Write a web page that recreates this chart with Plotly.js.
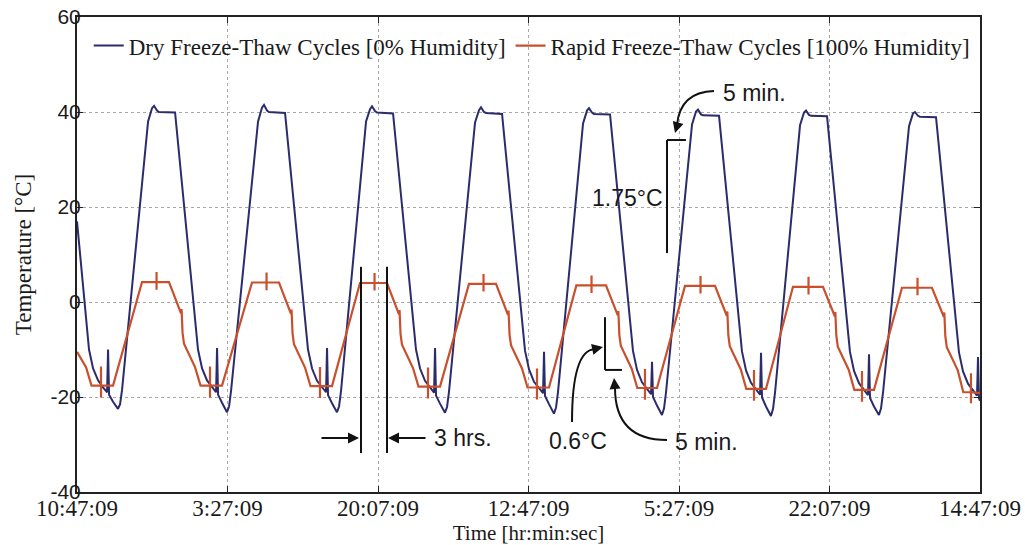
<!DOCTYPE html>
<html>
<head>
<meta charset="utf-8">
<script src="https://cdn.plot.ly/plotly-3.0.1.min.js"></script>
<style>
html,body{margin:0;padding:0;background:#fff;}
#chart{width:1025px;height:545px;}
</style>
</head>
<body>
<div id="chart"></div>
<script>
// Elapsed time in hours from 10:47:09 (start of record)
const dryTime = [
  0, 1.33, 1.78, 2.33, 2.88, 3.33, 3.44, 3.55, 3.99, 4.54, 4.77, 4.99, 7.87, 8.31,
  8.53, 8.86, 9.08, 10.86, 13.40, 13.85, 14.40, 14.95, 15.40, 15.51, 15.62, 16.06, 16.61, 16.84, 17.06, 20.05, 20.49,
  20.71, 21.04, 21.26, 23.04, 25.58, 26.03, 26.58, 27.13, 27.58, 27.69, 27.80, 28.24, 28.79, 29.02, 29.24, 32.01, 32.45,
  32.67, 33.00, 33.22, 35.00, 37.54, 37.99, 38.54, 39.09, 39.54, 39.65, 39.76, 40.20, 40.75, 40.98, 41.20, 44.08, 44.52,
  44.74, 45.07, 45.29, 47.07, 49.61, 50.06, 50.61, 51.16, 51.61, 51.72, 51.83, 52.27, 52.82, 53.05, 53.27, 56.04, 56.48,
  56.70, 57.03, 57.25, 59.03, 61.57, 62.02, 62.57, 63.12, 63.57, 63.68, 63.79, 64.23, 64.78, 65.01, 65.23, 68.11, 68.55,
  68.77, 69.10, 69.32, 71.10, 73.64, 74.09, 74.64, 75.19, 75.64, 75.75, 75.86, 76.30, 76.85, 77.08, 77.30, 80.07, 80.51,
  80.73, 81.06, 81.28, 83.06, 85.60, 86.05, 86.60, 87.15, 87.60, 87.71, 87.82, 88.26, 88.81, 89.04, 89.26, 92.14, 92.58,
  92.80, 93.13, 93.35, 95.13, 97.67, 98.12, 98.67, 99.22, 99.67, 99.78, 99.89, 100
];
const dryTemp = [
  17, -10, -14, -16.5, -18, -19, -10, -19.5, -21, -22.5, -21.5, -18.5, 38, 40.8,
  41.3, 40.3, 40.0, 39.9, -10, -14, -16.5, -18, -19, -9.7, -19.5, -21.2, -23.2, -22, -18.7, 38, 40.9,
  41.5, 40.3, 40.0, 39.8, -10, -14, -16.6, -18, -19, -9.7, -19.6, -21.3, -23.2, -22, -18.7, 38, 40.6,
  41.2, 40.2, 39.9, 39.7, -10, -14, -16.6, -18.1, -19.1, -9.7, -19.7, -21.4, -23.3, -22.1, -18.8, 37.8, 40.4,
  41.0, 40.0, 39.8, 39.6, -10.2, -14.2, -16.8, -18.2, -19.2, -10.5, -19.8, -21.5, -23.5, -22.2, -18.9, 37.6, 40.3,
  40.8, 39.9, 39.6, 39.5, -10.3, -14.3, -16.9, -18.3, -19.4, -12.6, -20, -21.8, -23.8, -22.4, -19, 37.4, 40.1,
  40.5, 39.5, 39.3, 39.2, -10.4, -14.4, -17, -18.4, -19.5, -10.7, -20.1, -22, -24, -22.5, -19.1, 37.2, 39.9,
  40.3, 39.4, 39.2, 39.1, -10.5, -14.5, -17.1, -18.5, -19.6, -11, -20.2, -22, -23.8, -22.4, -19.1, 37, 39.7,
  40.0, 39.2, 39.0, 38.9, -10.6, -14.6, -17.2, -18.6, -19.7, -11.6, -20.3, -20.8
];
const rapidTime = [
  0, 1.00, 1.61, 2.66, 2.66, 2.66, 2.66, 3.99, 7.20,
  8.81, 8.81, 8.81, 8.81, 10.19, 11.52, 11.58, 11.69, 11.85, 13.07, 13.68, 14.73, 14.73, 14.73, 14.73, 16.06, 19.38,
  20.99, 20.99, 20.99, 20.99, 22.37, 23.70, 23.76, 23.87, 24.03, 25.25, 25.86, 26.91, 26.91, 26.91, 26.91, 28.24, 31.34,
  32.95, 32.95, 32.95, 32.95, 34.33, 35.66, 35.72, 35.83, 35.99, 37.21, 37.82, 38.87, 38.87, 38.87, 38.87, 40.20, 43.41,
  45.02, 45.02, 45.02, 45.02, 46.40, 47.73, 47.79, 47.90, 48.06, 49.28, 49.89, 50.94, 50.94, 50.94, 50.94, 52.27, 55.30,
  56.98, 56.98, 56.98, 56.98, 58.58, 59.89, 59.95, 60.06, 60.22, 61.44, 62.05, 62.90, 62.90, 62.90, 62.90, 64.23, 67.33,
  69.05, 69.05, 69.05, 69.05, 70.65, 71.96, 72.02, 72.13, 72.29, 73.51, 74.12, 74.97, 74.97, 74.97, 74.97, 76.30, 79.29,
  81.01, 81.01, 81.01, 81.01, 82.61, 83.92, 83.98, 84.09, 84.25, 85.47, 86.08, 86.93, 86.93, 86.93, 86.93, 88.26, 91.36,
  93.08, 93.08, 93.08, 93.08, 94.68, 95.99, 96.05, 96.16, 96.32, 97.54, 98.15, 99.00, 99.00, 99.00, 99.00, 100
];
const rapidTemp = [
  -10.5, -13.7, -17.6, -17.6, -13.6, -20.1, -17.6, -17.6, 4.2,
  4.2, 6.3, 2.6, 4.2, 4.2, -2.4, -1.5, -6.5, -8.8, -13.7, -17.6, -17.6, -13.6, -20.1, -17.6, -17.6, 4.1,
  4.1, 6.2, 2.5, 4.1, 4.1, -2.5, -1.6, -6.6, -8.9, -13.8, -17.7, -17.7, -13.7, -20.2, -17.7, -17.7, 4.0,
  4.0, 6.1, 2.4, 4.0, 4.0, -2.6, -1.7, -6.7, -9.0, -13.9, -17.8, -17.8, -13.8, -20.3, -17.8, -17.8, 3.8,
  3.8, 5.9, 2.2, 3.8, 3.8, -2.7, -1.8, -6.8, -9.1, -14.0, -18.0, -18.0, -14.0, -20.5, -18.0, -18.0, 3.5,
  3.5, 5.6, 1.9, 3.5, 3.5, -2.8, -1.9, -6.9, -9.2, -14.1, -18.1, -18.1, -14.1, -20.6, -18.1, -18.1, 3.4,
  3.4, 5.5, 1.8, 3.4, 3.4, -2.9, -2.0, -7.0, -9.3, -14.2, -18.3, -18.3, -14.3, -20.8, -18.3, -18.3, 3.2,
  3.2, 5.3, 1.6, 3.2, 3.2, -3.0, -2.1, -7.1, -9.4, -14.3, -18.5, -18.5, -14.5, -21.0, -18.5, -18.5, 3.0,
  3.0, 5.1, 1.4, 3.0, 3.0, -3.1, -2.2, -7.2, -9.5, -14.4, -19.0, -19.0, -15.0, -21.3, -19.0, -19.2
];
const seriesNames = ['Dry Freeze-Thaw Cycles [0% Humidity]', 'Rapid Freeze-Thaw Cycles [100% Humidity]'];
const xTickLabels = ['10:47:09', '3:27:09', '20:07:09', '12:47:09', '5:27:09', '22:07:09', '14:47:09'];
const xTickHours = [0, 100/6, 200/6, 50, 400/6, 500/6, 100];
const yTickValues = [-40, -20, 0, 20, 40, 60];
const yTickLabels = ['-40', '-20', '0', '20', '40', '60'];

const serif = 'Liberation Serif, Times New Roman, serif';
const sans = 'Liberation Sans, Arial, sans-serif';

const traces = [
  {x: dryTime, y: dryTemp, type: 'scatter', mode: 'lines', name: seriesNames[0],
   line: {color: '#2b2c6c', width: 2}},
  {x: rapidTime, y: rapidTemp, type: 'scatter', mode: 'lines', name: seriesNames[1],
   line: {color: '#c8502c', width: 2.2}}
];

const blk = '#111';
const shapes = [
  // 3 hrs bracket lines
  {type: 'line', x0: 31.45, x1: 31.45, y0: 7.4, y1: -31.8, line: {color: blk, width: 2}},
  {type: 'line', x0: 34.33, x1: 34.33, y0: 7.4, y1: -31.8, line: {color: blk, width: 2}},
  // 1.75 C bracket
  {type: 'line', x0: 65.34, x1: 65.34, y0: 10.3, y1: 34.1, line: {color: blk, width: 2}},
  {type: 'line', x0: 65.34, x1: 67.44, y0: 34.1, y1: 34.1, line: {color: blk, width: 2}},
  // 0.6 C bracket
  {type: 'line', x0: 58.47, x1: 58.47, y0: -3.2, y1: -14.3, line: {color: blk, width: 2}},
  {type: 'line', x0: 58.47, x1: 60.35, y0: -14.3, y1: -14.3, line: {color: blk, width: 2}},
  // curved leaders
  {type: 'path', path: 'M 70.54,44.42 Q 66.78,44.21 66.45,37.26', line: {color: blk, width: 2}},
  {type: 'path', path: 'M 65.34,-29.05 Q 59.58,-29.05 59.58,-18.1', line: {color: blk, width: 2}},
  {type: 'path', path: 'M 54.82,-25.26 Q 54.82,-10.1 57.36,-9.89', line: {color: blk, width: 2}}
];

const txt = (x, y, t) => ({x: x, y: y, text: t, showarrow: false, font: {family: sans, size: 23, color: '#1a1a1a'}});
const arr = (x, y, ax, ay, ref) => ({x: x, y: y, ax: ax, ay: ay, axref: ref || 'pixel', ayref: ref || 'pixel',
  text: '', showarrow: true, arrowhead: 2, arrowsize: 1, arrowwidth: 2.2, arrowcolor: blk});
const annotations = [
  txt(42.75, -28.63, '3 hrs.'),
  txt(60.91, 21.9, '1.75°C'),
  txt(75.08, 44.0, '5 min.'),
  txt(55.48, -29.26, '0.6°C'),
  txt(69.66, -29.47, '5 min.'),
  arr(31.23, -28.63, 26.91, -28.63, 'x'),
  arr(34.44, -28.63, 38.76, -28.63, 'x'),
  arr(66.22, 35.58, 3, -10),
  arr(59.47, -16.0, 1, 11),
  arr(58.25, -9.47, -9, 2)
];
annotations[5].ayref = 'y'; annotations[6].ayref = 'y';

const layout = {
  width: 1025, height: 545,
  margin: {l: 77, r: 45, t: 17, b: 53},
  paper_bgcolor: '#fff', plot_bgcolor: '#fff',
  showlegend: true,
  legend: {orientation: 'h', x: 0.013, y: 0.985, xanchor: 'left', yanchor: 'top',
    bgcolor: 'rgba(255,255,255,0)', font: {family: serif, size: 23, color: '#1a1a1a'}},
  xaxis: {
    range: [0, 100], tickmode: 'array', tickvals: xTickHours, ticktext: xTickLabels,
    tickfont: {family: serif, size: 23, color: '#1a1a1a'},
    ticks: 'inside', ticklen: 6, tickcolor: '#222', ticklabelstandoff: -6,
    showline: true, linecolor: '#222', linewidth: 2, mirror: 'ticks',
    showgrid: true, gridcolor: '#a8a8a8', griddash: 'dot', gridwidth: 1,
    zeroline: false, automargin: false,
    title: {text: 'Time [hr:min:sec]', font: {family: serif, size: 21, color: '#1a1a1a'}, standoff: 10}
  },
  yaxis: {
    range: [-40, 60], tickmode: 'array', tickvals: yTickValues, ticktext: yTickLabels,
    tickfont: {family: sans, size: 21, color: '#1a1a1a'},
    ticks: 'inside', ticklen: 6, tickcolor: '#222', ticklabelstandoff: -10,
    showline: true, linecolor: '#222', linewidth: 2, mirror: 'ticks',
    showgrid: true, gridcolor: '#a8a8a8', griddash: 'dot', gridwidth: 1,
    zeroline: false, automargin: false,
    title: {text: 'Temperature [°C]', font: {family: serif, size: 23, color: '#1a1a1a'}, standoff: 12}
  },
  shapes: shapes,
  annotations: annotations
};

Plotly.newPlot('chart', traces, layout, {displayModeBar: false, staticPlot: true});
</script>
</body>
</html>
